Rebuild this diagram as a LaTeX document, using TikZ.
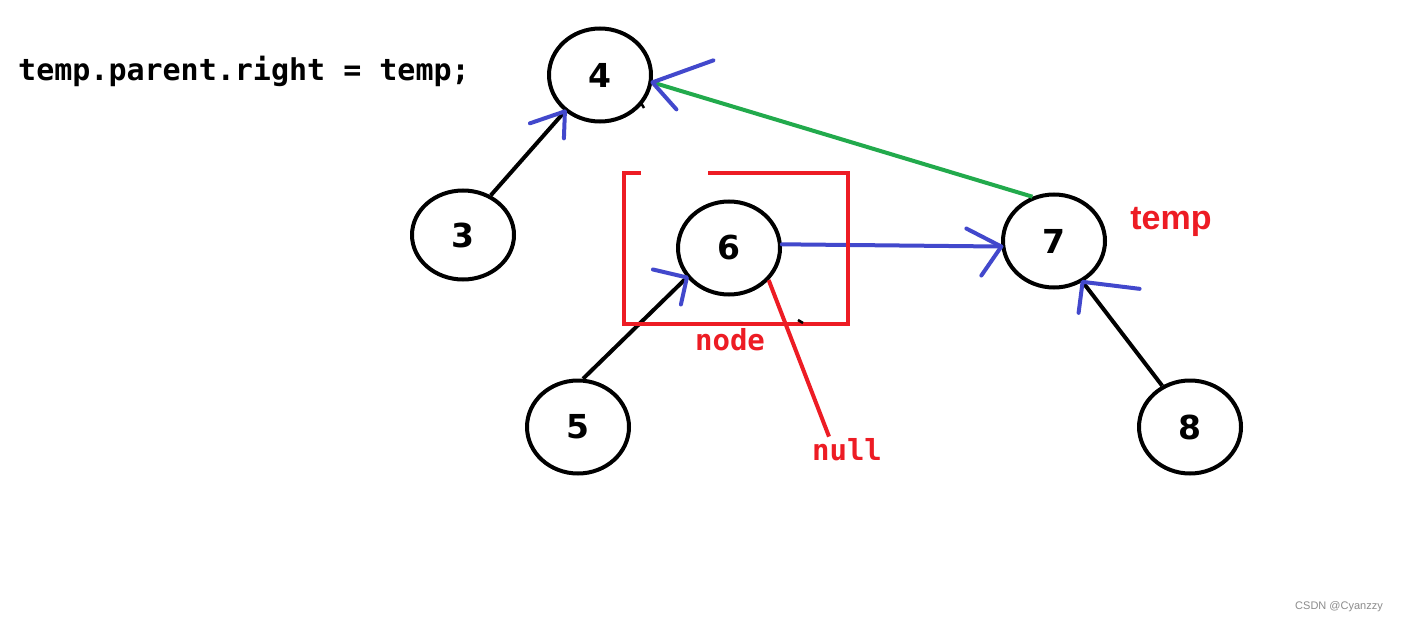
\documentclass[tikz,border=0pt]{standalone}
\usepackage{fontspec}
\setmainfont{Liberation Sans}
\newfontfamily\codefont{DejaVu Sans Mono}
\newfontfamily\numfont{DejaVu Sans}
\usetikzlibrary{shapes.geometric}
\definecolor{penblue}{RGB}{66,72,204}
\definecolor{pengreen}{RGB}{34,170,76}
\definecolor{penred}{RGB}{237,28,36}
\tikzset{
  tnode/.style={ellipse,draw=black,line width=4pt,inner sep=0pt,
    minimum width=102pt,minimum height=93pt,font=\fontsize{33}{33}\selectfont\numfont\bfseries},
  edge/.style={draw=black,line width=4pt},
  bluepen/.style={draw=penblue,line width=4pt,line cap=round,line join=round},
  redlbl/.style={text=penred,font=\fontsize{29}{29}\selectfont\codefont\bfseries,inner sep=0pt},
}
\begin{document}
\begin{tikzpicture}[x=1pt,y=-1pt]
\useasboundingbox[fill=white] (0,0) rectangle (1402,623);
% code text
\node[anchor=west,inner sep=0pt,font=\fontsize{30}{30}\selectfont\codefont\bfseries] (code) at (18,71) {temp.parent.right = temp;};
% nodes
\node[tnode] (n4) at (600,75) {4};
\node[tnode,minimum height=89pt] (n3) at (463,235) {3};
\node[tnode] (n6) at (729,248) {6};
\node[tnode] (n7) at (1054,241) {7};
\node[tnode] (n5) at (578,427) {5};
\node[tnode] (n8) at (1190,427) {8};
% labels
\node[text=penred,font=\fontsize{34}{34}\selectfont\bfseries,inner sep=0pt] (temp) at (1171,222) {temp};
\node[redlbl] (nodelbl) at (730,340) {node};
\node[redlbl] (null) at (847,450) {null};
\node[text=black!45,font=\fontsize{11}{11}\selectfont,inner sep=0pt] (wm) at (1339,607) {CSDN @Cyanzzy};
% black edges
\draw[edge] (n3.55) -- (n4.-134);
\draw[edge] (n5.84) -- (n6.215);
\draw[edge] (n8.124) -- (n7.-55);
% green edge
\draw[draw=pengreen,line width=4pt] (n7.116) -- (n4.-8);
% blue edge 6 -> 7
\draw[bluepen] (n6.4) -- (n7.186);
% blue arrowheads
\coordinate (t4a) at (n4.-134);
\draw[bluepen] ([shift={(-35,12)}]t4a) -- (t4a) -- ([shift={(-1,27)}]t4a);
\coordinate (t4b) at (n4.-8);
\draw[bluepen] ([shift={(61,-22)}]t4b) -- (t4b) -- ([shift={(24,27)}]t4b);
\coordinate (t6) at (n6.215);
\draw[bluepen] ([shift={(-34,-8)}]t6) -- (t6) -- ([shift={(-6,27)}]t6);
\coordinate (t7a) at (n7.186);
\draw[bluepen] ([shift={(-35,-18)}]t7a) -- (t7a) -- ([shift={(-20,29)}]t7a);
\coordinate (t7b) at (n7.-55);
\draw[bluepen] ([shift={(57,7)}]t7b) -- (t7b) -- ([shift={(-4,31)}]t7b);
% red pointer 6 -> null
\coordinate (nulltop) at ([xshift=-18pt,yshift=2pt]null.north);
\draw[draw=penred,line width=4pt] (n6.-39) -- (nulltop);
% red box with gap
\draw[draw=penred,line width=4pt] (708,173) -- (848,173) -- (848,324) -- (624,324) -- (624,173) -- (641,173);
% small stray ticks
\draw[line width=2.5pt] (641,103) -- (644,108);
\draw[line width=2.5pt] (798,320) -- (803,323);
\end{tikzpicture}
\end{document}
